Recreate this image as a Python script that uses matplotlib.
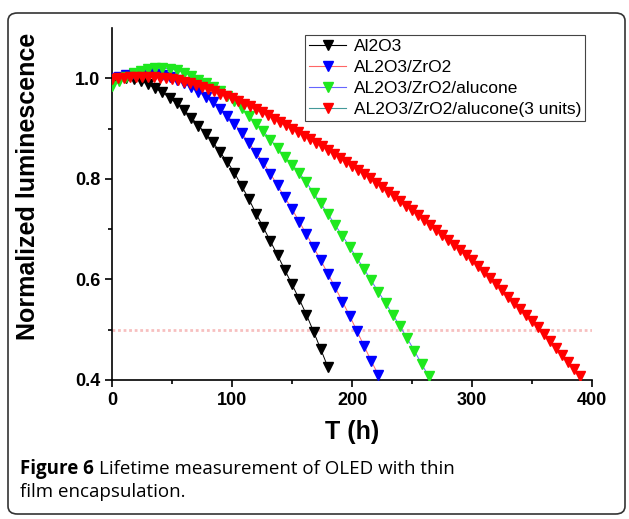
import matplotlib
matplotlib.use("Agg")
import matplotlib.pyplot as plt
from matplotlib.lines import Line2D
from matplotlib.patches import FancyBboxPatch

# ---- data ----
t_black = list(range(0, 181, 6))
v_black = [0.995, 0.998, 1.000, 0.999, 0.995, 0.988, 0.980, 0.972, 0.961, 0.950,
           0.937, 0.922, 0.906, 0.890, 0.873, 0.853, 0.834, 0.812, 0.786, 0.760,
           0.731, 0.704, 0.676, 0.648, 0.619, 0.590, 0.561, 0.530, 0.496, 0.461,
           0.425]

t_blue = list(range(0, 223, 6))
v_blue = [1.000, 1.003, 1.006, 1.008, 1.010, 1.010, 1.009, 1.007, 1.003, 0.997,
          0.990, 0.982, 0.973, 0.963, 0.952, 0.939, 0.925, 0.910, 0.891, 0.872,
          0.852, 0.832, 0.810, 0.787, 0.763, 0.740, 0.715, 0.690, 0.664, 0.638,
          0.611, 0.584, 0.556, 0.528, 0.498, 0.468, 0.438, 0.410]

t_green = list(range(0, 265, 6))
v_green = [0.985, 0.995, 1.003, 1.010, 1.015, 1.018, 1.020, 1.020, 1.019, 1.016,
           1.011, 1.005, 0.997, 0.990, 0.982, 0.974, 0.965, 0.954, 0.940, 0.925,
           0.910, 0.895, 0.878, 0.861, 0.844, 0.828, 0.812, 0.793, 0.772, 0.751,
           0.730, 0.708, 0.687, 0.665, 0.643, 0.621, 0.598, 0.575, 0.553, 0.530,
           0.507, 0.483, 0.458, 0.432, 0.407]

t_red = list(range(0, 391, 5))
v_red = [0.998, 1.000, 1.001, 1.002, 1.003, 1.003, 1.003, 1.002, 1.001, 1.000,
         0.998, 0.996, 0.993, 0.990, 0.986, 0.982, 0.978, 0.974, 0.969, 0.965,
         0.960, 0.955, 0.949, 0.944, 0.938, 0.932, 0.926, 0.920, 0.913, 0.907,
         0.900, 0.893, 0.886, 0.879, 0.872, 0.865, 0.857, 0.850, 0.842, 0.834,
         0.826, 0.818, 0.810, 0.801, 0.792, 0.783, 0.774, 0.765, 0.756, 0.747,
         0.738, 0.728, 0.718, 0.708, 0.698, 0.688, 0.678, 0.668, 0.658, 0.648,
         0.638, 0.626, 0.614, 0.602, 0.590, 0.578, 0.566, 0.554, 0.542, 0.530,
         0.518, 0.505, 0.492, 0.478, 0.464, 0.450, 0.436, 0.422, 0.408]

labels = ["Al2O3", "AL2O3/ZrO2", "AL2O3/ZrO2/alucone", "AL2O3/ZrO2/alucone(3 units)"]
marker_colors = ["#000000", "#0000ff", "#1ee81e", "#ff0000"]
line_colors = ["#000000", "#ff6666", "#6666ff", "#449999"]
half_level = 0.5

fig = plt.figure(figsize=(6.29, 5.19), dpi=100)
fig.patch.set_facecolor("white")

# rounded frame around the whole figure
frame = FancyBboxPatch((8 / 629, 5 / 519), 617 / 629, 501 / 519,
                       boxstyle="round,pad=0,rounding_size=0.015",
                       transform=fig.transFigure, fill=False,
                       edgecolor="#333333", linewidth=1.2)
fig.patches.append(frame)

ax = fig.add_axes([112 / 629, 139 / 519, 480 / 629, 352 / 519])

series = [(t_black, v_black), (t_blue, v_blue), (t_green, v_green), (t_red, v_red)]
for (t, v), mc, lc in zip(series, marker_colors, line_colors):
    ax.plot(t, v, color=lc, lw=0.7, zorder=2)
    ax.plot(t, v, ls="none", marker="v", ms=6.5, mfc=mc, mec=mc, zorder=3)

ax.plot([0, 400], [half_level, half_level], color="#f08080", lw=2,
        ls=(0, (1, 1)), alpha=0.5, zorder=1)

ax.set_xlim(0, 400)
ax.set_ylim(0.4, 1.1)
ax.set_xticks([0, 100, 200, 300, 400])
ax.set_xticks([50, 150, 250, 350], minor=True)
ax.set_yticks([0.4, 0.6, 0.8, 1.0])
ax.set_yticks([0.5, 0.7, 0.9], minor=True)
ax.set_yticklabels(["0.4", "0.6", "0.8", "1.0"])

for s in ["top", "right"]:
    ax.spines[s].set_visible(False)
for s in ["left", "bottom"]:
    ax.spines[s].set_linewidth(1.2)

ax.tick_params(which="major", direction="out", length=5, width=1.2)
ax.tick_params(which="minor", direction="out", length=3, width=1.2)
for lab in ax.get_xticklabels() + ax.get_yticklabels():
    lab.set_fontfamily("Liberation Sans")
    lab.set_fontweight("bold")
    lab.set_fontsize(13)

ax.set_xlabel("T (h)", fontfamily="Liberation Sans", fontweight="bold",
              fontsize=18, labelpad=8)
ax.set_ylabel("Normalized luminescence", fontfamily="Liberation Sans",
              fontweight="bold", fontsize=18)
ax.yaxis.set_label_coords(-0.15, 0.55)

handles = [Line2D([], [], color=lc, lw=0.8, marker="v", ms=6.5, mfc=mc, mec=mc)
           for mc, lc in zip(marker_colors, line_colors)]
leg = ax.legend(handles, labels, loc="upper left",
                bbox_to_anchor=(305 / 629, 1 - 35 / 519),
                bbox_transform=fig.transFigure, borderaxespad=0,
                prop={"family": "Liberation Sans", "size": 12.5},
                fancybox=False, edgecolor="#444444", framealpha=1,
                handlelength=2.1, handletextpad=0.45, labelspacing=0.33,
                borderpad=0.25)
leg.get_frame().set_linewidth(0.8)

# caption: bold "Figure 6" followed by regular text
cap_y1 = 1 - 474 / 519
cap_y2 = 1 - 497 / 519
head = fig.text(20 / 629, cap_y1, "Figure 6", fontfamily="Open Sans",
                fontweight="bold", fontsize=13.5, va="baseline")
fig.canvas.draw()
bb = head.get_window_extent().transformed(fig.transFigure.inverted())
fig.text(bb.x1 + 5 / 629, cap_y1, "Lifetime measurement of OLED with thin",
         fontfamily="Open Sans", fontsize=13.5, va="baseline")
fig.text(20 / 629, cap_y2, "film encapsulation.",
         fontfamily="Open Sans", fontsize=13.5, va="baseline")

fig.savefig("out.png", dpi=100)
